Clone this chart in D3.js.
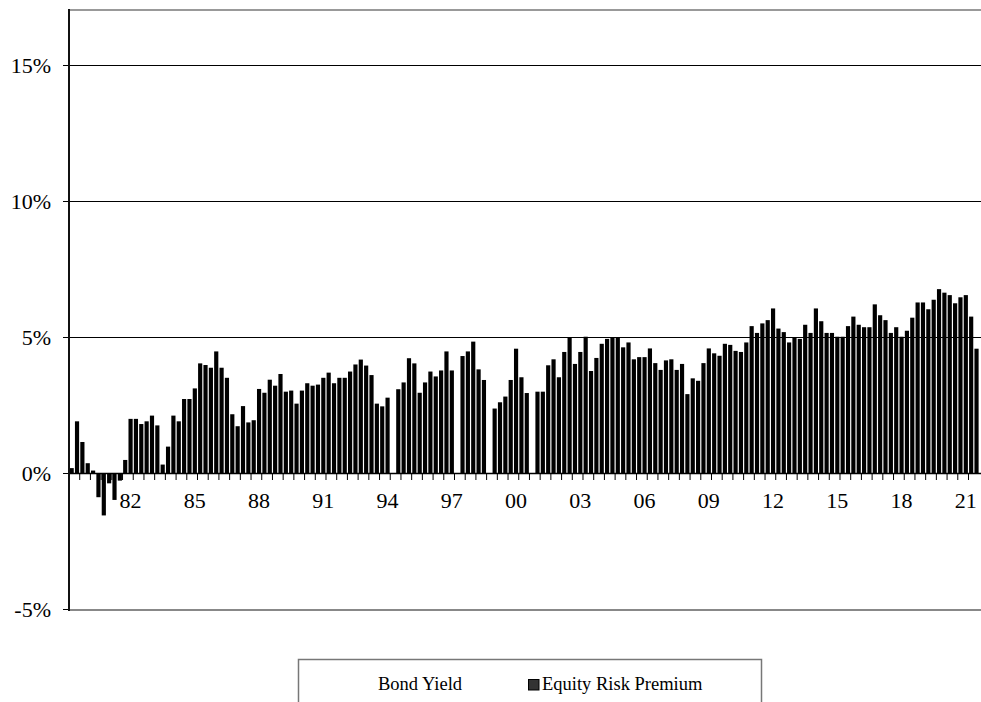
<!DOCTYPE html>
<html>
<head>
<meta charset="utf-8">
<script src="https://cdn.jsdelivr.net/npm/d3@7"></script>
<style>
  html, body { margin: 0; padding: 0; background: #fff; }
  svg { display: block; }
</style>
</head>
<body>
<svg id="chart" width="981" height="702"></svg>
<script>
// ---- Data (quarterly, 1979Q2 .. 2021Q3) ----
const startYear = 1979, startQuarter = 2, nQuarters = 170;
const categories = [];
for (let i = 0; i < nQuarters; i++) {
  const q = (startQuarter - 1 + i);
  categories.push((startYear + Math.floor(q / 4)) + "Q" + (q % 4 + 1));
}

const equityRiskPremium = [
  0.18, 1.90, 1.14, 0.36, 0.09, -0.89, -1.56, -0.38, -0.99, -0.28,
  0.48, 1.99, 1.99, 1.80, 1.90, 2.11, 1.75, 0.31, 0.97, 2.11,
  1.90, 2.72, 2.72, 3.11, 4.03, 3.97, 3.87, 4.47, 3.87, 3.50,
  2.16, 1.72, 2.46, 1.86, 1.94, 3.09, 2.95, 3.43, 3.21, 3.64,
  2.99, 3.03, 2.55, 3.03, 3.30, 3.21, 3.25, 3.50, 3.69, 3.30,
  3.50, 3.50, 3.73, 3.99, 4.17, 3.95, 3.60, 2.55, 2.45, 2.77,
  null, 3.08, 3.33, 4.22, 4.03, 2.95, 3.33, 3.73, 3.55, 3.77,
  4.47, 3.77, null, 4.30, 4.47, 4.83, 3.81, 3.42, null, 2.37,
  2.60, 2.81, 3.42, 4.57, 3.52, 2.94, null, 2.99, 2.99, 3.96,
  4.18, 3.52, 4.45, 4.98, 4.01, 4.45, 5.01, 3.75, 4.23, 4.75,
  4.93, 4.98, 4.98, 4.62, 4.80, 4.18, 4.26, 4.26, 4.58, 4.04,
  3.79, 4.14, 4.18, 3.79, 4.01, 2.90, 3.48, 3.39, 4.04, 4.58,
  4.40, 4.31, 4.75, 4.71, 4.49, 4.45, 4.80, 5.40, 5.15, 5.50,
  5.62, 6.05, 5.31, 5.18, 4.80, 5.00, 4.93, 5.45, 5.15, 6.05,
  5.58, 5.15, 5.15, 5.01, 5.01, 5.40, 5.75, 5.45, 5.36, 5.36,
  6.20, 5.80, 5.62, 5.15, 5.36, 5.01, 5.23, 5.71, 6.27, 6.27,
  6.02, 6.37, 6.76, 6.63, 6.54, 6.24, 6.46, 6.54, 5.75, 4.57
];

const xTickLabels = ["82","85","88","91","94","97","00","03","06","09","12","15","18","21"];
const xTickCategories = ["1982Q1","1985Q1","1988Q1","1991Q1","1994Q1","1997Q1","2000Q1",
                         "2003Q1","2006Q1","2009Q1","2012Q1","2015Q1","2018Q1","2021Q1"];
const yTickValues = [-5, 0, 5, 10, 15];
const gridValues = [5, 10, 15];
const legendLabels = ["Bond Yield", "Equity Risk Premium"];

const FONT = "Liberation Serif";

// ---- Layout ----
const svg = d3.select("#chart");
const plot = { left: 69, right: 979.2, top: 10, bottom: 609, frameRight: 981 };

const x = d3.scaleBand()
  .domain(categories)
  .range([plot.left, plot.right])
  .paddingInner(0.22)
  .paddingOuter(0.11);

const y = d3.scaleLinear().domain([-5, 15]).range([609, 65]);

const data = categories.map((c, i) => ({ cat: c, v: equityRiskPremium[i] }));

// gridlines
svg.append("g").selectAll("line").data(gridValues).join("line")
  .attr("x1", plot.left).attr("x2", plot.frameRight)
  .attr("y1", d => Math.round(y(d)) + 0.5).attr("y2", d => Math.round(y(d)) + 0.5)
  .attr("stroke", "#000").attr("stroke-width", 1);

// top frame line
svg.append("line")
  .attr("x1", plot.left).attr("x2", plot.frameRight)
  .attr("y1", plot.top).attr("y2", plot.top)
  .attr("stroke", "#999").attr("stroke-width", 2);

// bottom frame line (-5%)
svg.append("line")
  .attr("x1", plot.left).attr("x2", plot.frameRight)
  .attr("y1", y(-5) + 1).attr("y2", y(-5) + 1)
  .attr("stroke", "#888").attr("stroke-width", 2);

// bars
svg.append("g").selectAll("rect")
  .data(data.filter(d => d.v !== null))
  .join("rect")
  .attr("x", d => x(d.cat))
  .attr("width", x.bandwidth())
  .attr("y", d => Math.min(y(d.v), y(0)))
  .attr("height", d => Math.abs(y(d.v) - y(0)))
  .attr("fill", "#000");

// zero axis line
svg.append("line")
  .attr("x1", plot.left).attr("x2", plot.frameRight)
  .attr("y1", y(0) + 0.5).attr("y2", y(0) + 0.5)
  .attr("stroke", "#000").attr("stroke-width", 1.5);

// x tick marks at category boundaries, every 2 categories
const stepHalfGap = x.step() * x.paddingInner() / 2;
const boundaryCats = categories.filter((c, i) => i % 2 === 0);
svg.append("g").selectAll("line").data(boundaryCats).join("line")
  .attr("x1", d => x(d) - stepHalfGap).attr("x2", d => x(d) - stepHalfGap)
  .attr("y1", y(0)).attr("y2", y(0) + 7)
  .attr("stroke", "#000").attr("stroke-width", 1);

// x labels
const xAxis = d3.axisBottom(x)
  .tickValues(xTickCategories)
  .tickSize(0)
  .tickPadding(19)
  .tickFormat(d => xTickLabels[xTickCategories.indexOf(d)]);
const gx = svg.append("g").attr("transform", `translate(0,${y(0)})`).call(xAxis);
gx.select(".domain").remove();
gx.attr("font-family", FONT).attr("font-size", 22);
gx.selectAll("text").attr("font-family", FONT).attr("font-size", 22).attr("fill", "#000");

// y axis
const yAxis = d3.axisLeft(y)
  .tickValues(yTickValues)
  .tickSize(6)
  .tickPadding(12)
  .tickFormat(d => d + "%");
const gy = svg.append("g").attr("transform", `translate(${plot.left},0)`).call(yAxis);
gy.select(".domain").remove();
gy.attr("font-family", FONT).attr("font-size", 22);
gy.selectAll(".tick line").attr("stroke", "#000");
gy.selectAll("text").attr("font-family", FONT).attr("font-size", 22).attr("fill", "#000");

// left axis line
svg.append("line")
  .attr("x1", plot.left).attr("x2", plot.left)
  .attr("y1", plot.top - 1).attr("y2", plot.bottom + 2)
  .attr("stroke", "#111").attr("stroke-width", 2);

// legend
const lg = svg.append("g");
lg.append("rect")
  .attr("x", 298.5).attr("y", 659.5).attr("width", 463).attr("height", 60)
  .attr("fill", "#fff").attr("stroke", "#777").attr("stroke-width", 1.5);
lg.append("text").attr("x", 378).attr("y", 690)
  .attr("font-family", FONT).attr("font-size", 18.5).attr("fill", "#000")
  .text(legendLabels[0]);
lg.append("rect").attr("x", 528.5).attr("y", 679.5).attr("width", 10.5).attr("height", 10.5)
  .attr("fill", "#333").attr("stroke", "#000").attr("stroke-width", 1);
lg.append("text").attr("x", 542).attr("y", 690)
  .attr("font-family", FONT).attr("font-size", 18.5).attr("fill", "#000")
  .text(legendLabels[1]);
</script>
</body>
</html>
